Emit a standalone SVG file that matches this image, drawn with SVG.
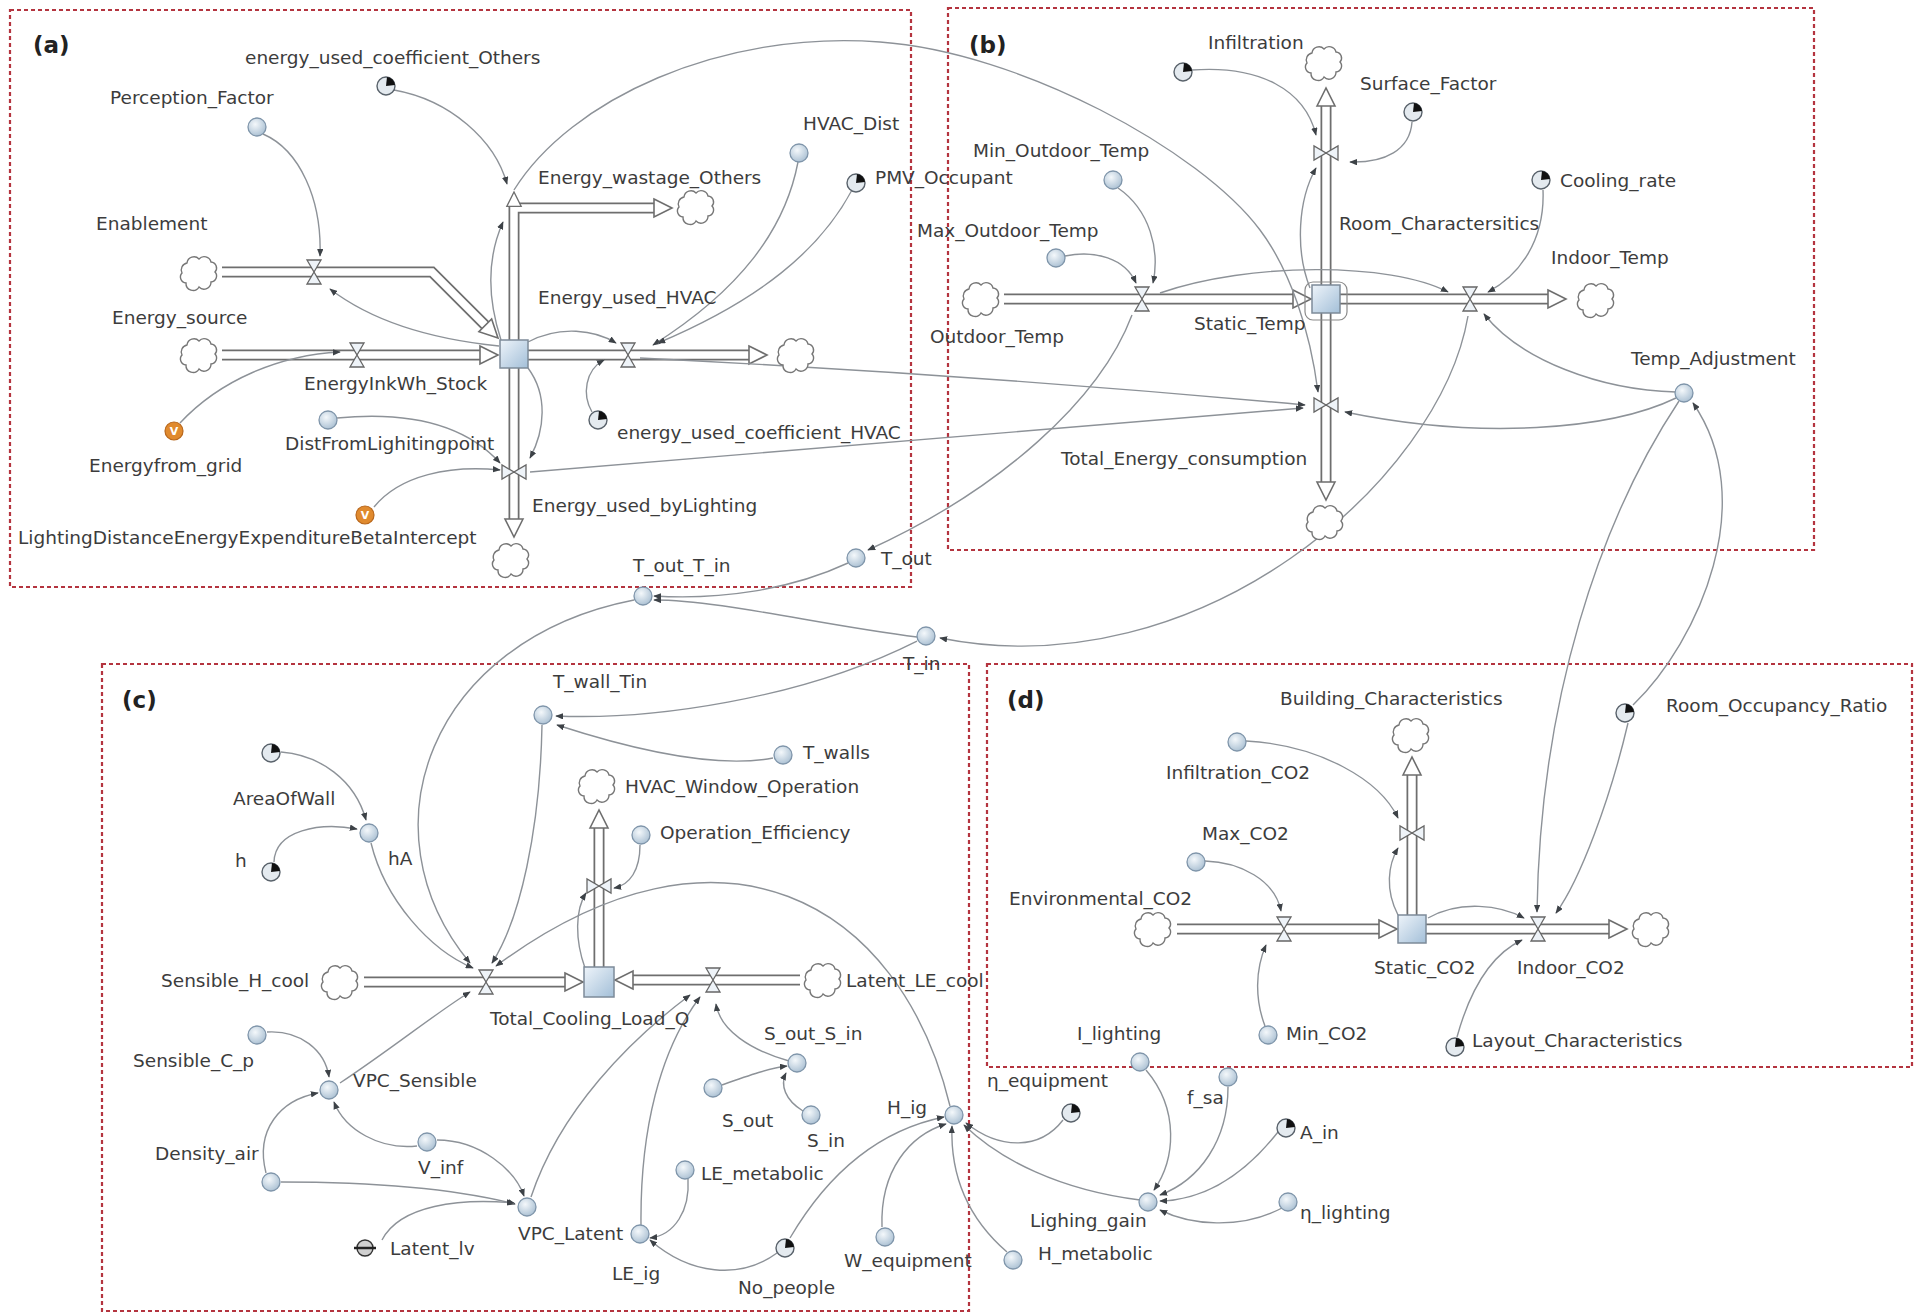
<svg xmlns="http://www.w3.org/2000/svg" xmlns:xlink="http://www.w3.org/1999/xlink" width="1919" height="1314" viewBox="0 0 1919 1314">
<style>
.lbl{font-family:"DejaVu Sans",sans-serif;font-size:18.5px;fill:#3c3c3c}
.pl{font-family:"DejaVu Sans",sans-serif;font-size:23px;font-weight:bold;fill:#222}
.panel{fill:none;stroke:#b4343f;stroke-width:2.2;stroke-dasharray:4 3}
.aux{fill:url(#ga);stroke:#7f95aa;stroke-width:1.3}
.par{fill:#e4eaef;stroke:#59626b;stroke-width:1.4}
.wedge{fill:#111}
.link{fill:none;stroke:#8d9298;stroke-width:1.4;marker-end:url(#ah)}
.pipeo{fill:none;stroke:#6e6e6e;stroke-width:11;stroke-linejoin:miter}
.pipei{fill:none;stroke:#fff;stroke-width:7.5;stroke-linejoin:miter}
.pah{fill:#fff;stroke:#6e6e6e;stroke-width:1.6;stroke-linejoin:miter}
.cloud{fill:#fff;stroke:#777;stroke-width:1.4}
.valve{fill:#eef3f8;stroke:#666;stroke-width:1.3}
.stock{fill:url(#gs);stroke:#7d8b99;stroke-width:1.5}
</style>
<defs>
<radialGradient id="ga" cx="40%" cy="35%" r="70%"><stop offset="0" stop-color="#f4f8fb"/><stop offset="1" stop-color="#a9bfd2"/></radialGradient>
<linearGradient id="gs" x1="0" y1="0" x2="1" y2="1"><stop offset="0" stop-color="#eef4fa"/><stop offset="1" stop-color="#a3bfd8"/></linearGradient>
<marker id="ah" viewBox="0 0 10 8" refX="9" refY="4" markerWidth="8" markerHeight="6.4" markerUnits="userSpaceOnUse" orient="auto"><path d="M0,0 L10,4 L0,8 z" fill="#3d4247"/></marker>
<g id="aux"><circle r="9" class="aux"/></g>
<g id="par"><circle r="9" class="par"/><path d="M0,0 L1,-9 A9,9 0 0 1 9,-1 Z" class="wedge"/></g>
<g id="ovar"><circle r="9" fill="#e08a2e" stroke="#b8661a" stroke-width="1.2"/><text x="0" y="4" text-anchor="middle" font-family="DejaVu Sans,sans-serif" font-size="11" font-weight="bold" fill="#fff">V</text></g>
<path id="cld" class="cloud" d="M-14,10 a6,6 0 0 1 -4,-10 a7,7 0 0 1 5,-10 a7,7 0 0 1 12,-4 a7,7 0 0 1 12,3 a6,6 0 0 1 4,10 a6,6 0 0 1 -4,10 a7,7 0 0 1 -12,5 a7,7 0 0 1 -13,-4 z"/>
<path id="vlv" class="valve" d="M-7,-12 H7 L0,0 Z M-7,12 H7 L0,0 Z"/>
<path id="pa" class="pah" d="M-18,-9 L0,0 L-18,9 Z"/>
</defs>
<rect width="1919" height="1314" fill="#fff"/>

<!-- panel frames -->
<g id="panels">
<rect class="panel" x="10" y="10" width="901" height="577"/>
<rect class="panel" x="948" y="8" width="866" height="542"/>
<rect class="panel" x="102" y="664" width="867" height="647"/>
<rect class="panel" x="987" y="664" width="925" height="403"/>
<text class="pl" x="33" y="53">(a)</text>
<text class="pl" x="969" y="53">(b)</text>
<text class="pl" x="122" y="708">(c)</text>
<text class="pl" x="1007" y="708">(d)</text>
</g>

<!-- material flows (pipes) -->
<g id="flows">
<path class="pipeo" d="M222,272 H432 L488,328"/><path class="pipei" d="M222,272 H432 L488,328"/>
<path class="pipeo" d="M222,355 H484"/><path class="pipei" d="M222,355 H484"/>
<path class="pipeo" d="M514,340 V208 H658"/><path class="pipei" d="M514,340 V208 H658"/>
<path class="pipeo" d="M528,355 H753"/><path class="pipei" d="M528,355 H753"/>
<path class="pipeo" d="M514,368 V523"/><path class="pipei" d="M514,368 V523"/>
<path class="pipeo" d="M1004,299 H1297"/><path class="pipei" d="M1004,299 H1297"/>
<path class="pipeo" d="M1326,285 V102"/><path class="pipei" d="M1326,285 V102"/>
<path class="pipeo" d="M1340,299 H1552"/><path class="pipei" d="M1340,299 H1552"/>
<path class="pipeo" d="M1326,313 V486"/><path class="pipei" d="M1326,313 V486"/>
<path class="pipeo" d="M364,982 H569"/><path class="pipei" d="M364,982 H569"/>
<path class="pipeo" d="M599,967 V824"/><path class="pipei" d="M599,967 V824"/>
<path class="pipeo" d="M800,980 H630"/><path class="pipei" d="M800,980 H630"/>
<path class="pipeo" d="M1177,929 H1383"/><path class="pipei" d="M1177,929 H1383"/>
<path class="pipeo" d="M1412,916 V771"/><path class="pipei" d="M1412,916 V771"/>
<path class="pipeo" d="M1426,929 H1613"/><path class="pipei" d="M1426,929 H1613"/>
<use href="#pa" transform="translate(498,338) rotate(45)"/>
<use href="#pa" transform="translate(498,355)"/>
<use href="#pa" transform="translate(514,192) rotate(-90) scale(0.8)"/>
<use href="#pa" transform="translate(672,208)"/>
<use href="#pa" transform="translate(767,355)"/>
<use href="#pa" transform="translate(514,537) rotate(90)"/>
<use href="#pa" transform="translate(1311,299)"/>
<use href="#pa" transform="translate(1326,88) rotate(-90)"/>
<use href="#pa" transform="translate(1566,299)"/>
<use href="#pa" transform="translate(1326,500) rotate(90)"/>
<use href="#pa" transform="translate(583,982)"/>
<use href="#pa" transform="translate(599,810) rotate(-90)"/>
<use href="#pa" transform="translate(615,980) rotate(180)"/>
<use href="#pa" transform="translate(1397,929)"/>
<use href="#pa" transform="translate(1412,757) rotate(-90)"/>
<use href="#pa" transform="translate(1627,929)"/>
</g>

<!-- causal links -->
<g id="connectors">
<path class="link" d="M394,90 C450,100 495,140 507,184"/>
<path class="link" d="M263,134 C300,150 322,200 320,256"/>
<path class="link" d="M499,346 Q390,335 330,289"/>
<path class="link" d="M501,340 C488,300 486,260 503,222"/>
<path class="link" d="M528,342 C560,325 595,330 616,343"/>
<path class="link" d="M592,412 C582,395 585,370 604,360"/>
<path class="link" d="M798,162 C785,230 740,290 653,345"/>
<path class="link" d="M852,190 C820,250 760,300 658,343"/>
<path class="link" d="M528,368 C548,395 545,430 530,458"/>
<path class="link" d="M337,418 C420,410 470,430 500,463"/>
<path class="link" d="M374,507 C400,475 450,465 500,470"/>
<path class="link" d="M180,423 C220,380 280,355 340,352"/>
<path class="link" d="M514,190 C570,100 720,30 880,42 C1020,52 1200,150 1260,230 C1290,270 1310,330 1318,392"/>
<path class="link" d="M640,358 Q980,375 1305,405"/>
<path class="link" d="M530,472 L1303,408"/>
<path class="link" d="M1192,70 C1260,65 1305,90 1316,135"/>
<path class="link" d="M1412,122 C1410,150 1385,163 1350,162"/>
<path class="link" d="M1310,288 C1295,250 1298,200 1316,168"/>
<path class="link" d="M1118,188 C1150,210 1160,250 1153,283"/>
<path class="link" d="M1065,256 C1095,250 1125,258 1136,283"/>
<path class="link" d="M1160,293 C1250,262 1390,262 1448,292"/>
<path class="link" d="M1132,315 C1100,400 1000,490 868,550"/>
<path class="link" d="M1543,190 C1545,240 1520,275 1488,292"/>
<path class="link" d="M1676,392 C1600,390 1520,360 1484,314"/>
<path class="link" d="M1676,398 C1610,430 1480,440 1345,412"/>
<path class="link" d="M1468,316 C1440,480 1200,690 940,638"/>
<path class="link" d="M848,563 C790,590 720,600 654,596"/>
<path class="link" d="M917,637 C820,625 720,600 654,600"/>
<path class="link" d="M634,600 C430,640 360,830 470,963"/>
<path class="link" d="M917,641 C800,700 650,720 556,716"/>
<path class="link" d="M773,758 C720,768 640,752 557,725"/>
<path class="link" d="M281,752 C320,755 355,780 366,820"/>
<path class="link" d="M274,862 C275,830 320,822 357,829"/>
<path class="link" d="M371,843 C385,900 430,950 473,968"/>
<path class="link" d="M542,725 C540,830 520,920 492,963"/>
<path class="link" d="M585,968 C575,940 575,910 586,893"/>
<path class="link" d="M640,845 C640,870 630,885 614,888"/>
<path class="link" d="M950,1106 C900,900 720,800 496,966"/>
<path class="link" d="M340,1083 C390,1050 440,1010 470,992"/>
<path class="link" d="M267,1032 C300,1030 325,1050 329,1077"/>
<path class="link" d="M266,1173 C255,1130 280,1100 318,1093"/>
<path class="link" d="M417,1146 C380,1150 345,1130 334,1102"/>
<path class="link" d="M437,1140 C480,1140 515,1170 524,1196"/>
<path class="link" d="M281,1182 C380,1182 460,1190 515,1204"/>
<path class="link" d="M382,1240 C400,1205 460,1198 514,1203"/>
<path class="link" d="M531,1197 C560,1110 630,1040 690,995"/>
<path class="link" d="M641,1225 C640,1130 660,1050 700,997"/>
<path class="link" d="M789,1061 C750,1050 720,1030 716,1004"/>
<path class="link" d="M722,1085 C750,1075 770,1068 787,1066"/>
<path class="link" d="M803,1111 C785,1100 780,1085 786,1073"/>
<path class="link" d="M688,1179 C690,1210 675,1235 650,1238"/>
<path class="link" d="M777,1253 C740,1280 690,1275 650,1240"/>
<path class="link" d="M790,1238 C830,1170 880,1130 944,1117"/>
<path class="link" d="M882,1227 C880,1170 910,1135 946,1124"/>
<path class="link" d="M1007,1252 C970,1220 950,1180 952,1126"/>
<path class="link" d="M1063,1120 C1040,1150 1000,1150 966,1123"/>
<path class="link" d="M1140,1200 C1060,1190 1000,1160 964,1125"/>
<path class="link" d="M1146,1070 C1180,1110 1175,1160 1154,1190"/>
<path class="link" d="M1228,1087 C1228,1140 1200,1180 1160,1195"/>
<path class="link" d="M1278,1132 C1240,1180 1200,1200 1160,1201"/>
<path class="link" d="M1282,1208 C1240,1230 1190,1225 1160,1210"/>
<path class="link" d="M1246,741 C1320,745 1380,780 1398,818"/>
<path class="link" d="M1398,915 C1385,890 1388,865 1398,848"/>
<path class="link" d="M1205,861 C1240,862 1275,880 1281,911"/>
<path class="link" d="M1265,1026 C1255,1000 1255,970 1266,945"/>
<path class="link" d="M1428,918 C1460,900 1500,905 1524,918"/>
<path class="link" d="M1457,1037 C1470,990 1490,955 1522,940"/>
<path class="link" d="M1679,401 C1600,520 1540,700 1537,912"/>
<path class="link" d="M1628,723 C1610,800 1580,880 1556,913"/>
<path class="link" d="M1633,705 C1700,640 1760,500 1693,403"/>
</g>

<!-- valves -->
<g id="valves">
<use href="#vlv" x="314" y="272"/>
<use href="#vlv" x="357" y="355"/>
<use href="#vlv" x="628" y="355"/>
<use href="#vlv" transform="translate(514,472) rotate(90)"/>
<use href="#vlv" x="1142" y="299"/>
<use href="#vlv" transform="translate(1326,153) rotate(90)"/>
<use href="#vlv" x="1470" y="299"/>
<use href="#vlv" transform="translate(1326,405) rotate(90)"/>
<use href="#vlv" x="486" y="982"/>
<use href="#vlv" transform="translate(599,886) rotate(90)"/>
<use href="#vlv" x="713" y="980"/>
<use href="#vlv" x="1284" y="929"/>
<use href="#vlv" transform="translate(1412,833) rotate(90)"/>
<use href="#vlv" x="1538" y="929"/>
</g>

<!-- sources and sinks -->
<g id="clouds">
<use href="#cld" x="200" y="273"/>
<use href="#cld" x="200" y="355"/>
<use href="#cld" x="697" y="207"/>
<use href="#cld" x="797" y="355"/>
<use href="#cld" x="512" y="560"/>
<use href="#cld" x="982" y="299"/>
<use href="#cld" x="1325" y="63"/>
<use href="#cld" x="1597" y="300"/>
<use href="#cld" x="1326" y="522"/>
<use href="#cld" x="341" y="982"/>
<use href="#cld" x="598" y="786"/>
<use href="#cld" x="824" y="980"/>
<use href="#cld" x="1154" y="929"/>
<use href="#cld" x="1412" y="735"/>
<use href="#cld" x="1652" y="929"/>
</g>

<!-- panel (a) -->
<g id="n-energy-stock"><rect class="stock" x="500" y="340" width="28" height="28"/><text class="lbl" x="304" y="389.5">EnergyInkWh_Stock</text></g>
<g id="n-enablement"><text class="lbl" x="96" y="229.5">Enablement</text></g>
<g id="n-energy-source"><text class="lbl" x="112" y="323.5">Energy_source</text></g>
<g id="n-energy-wastage"><text class="lbl" x="538" y="183.5">Energy_wastage_Others</text></g>
<g id="n-energy-used-hvac"><text class="lbl" x="538" y="303.5">Energy_used_HVAC</text></g>
<g id="n-energy-used-lighting"><text class="lbl" x="532" y="511.5">Energy_used_byLighting</text></g>
<g id="n-coef-others"><use href="#par" x="386" y="86"/><text class="lbl" x="245" y="63.5">energy_used_coefficient_Others</text></g>
<g id="n-perception"><use href="#aux" x="257" y="127"/><text class="lbl" x="110" y="103.5">Perception_Factor</text></g>
<g id="n-hvac-dist"><use href="#aux" x="799" y="153"/><text class="lbl" x="803" y="129.5">HVAC_Dist</text></g>
<g id="n-pmv"><use href="#par" x="856" y="183"/><text class="lbl" x="875" y="183.5">PMV_Occupant</text></g>
<g id="n-coef-hvac"><use href="#par" x="598" y="420"/><text class="lbl" x="617" y="438.5">energy_used_coefficient_HVAC</text></g>
<g id="n-dist"><use href="#aux" x="328" y="420"/><text class="lbl" x="285" y="449.5">DistFromLighitingpoint</text></g>
<g id="n-grid"><use href="#ovar" x="174" y="431"/><text class="lbl" x="89" y="471.5">Energyfrom_grid</text></g>
<g id="n-beta"><use href="#ovar" x="365" y="515"/><text class="lbl" x="18" y="543.5">LightingDistanceEnergyExpenditureBetaIntercept</text></g>

<!-- panel (b) -->
<g id="n-static-temp"><rect x="1305" y="282" width="42" height="38" rx="8" fill="none" stroke="#8a8a8a" stroke-width="1.2"/><rect class="stock" x="1312" y="285" width="28" height="28"/><text class="lbl" x="1194" y="329.5">Static_Temp</text></g>
<g id="n-outdoor-temp"><text class="lbl" x="930" y="342.5">Outdoor_Temp</text></g>
<g id="n-room-char"><text class="lbl" x="1339" y="229.5">Room_Charactersitics</text></g>
<g id="n-indoor-temp"><text class="lbl" x="1551" y="263.5">Indoor_Temp</text></g>
<g id="n-total-energy"><text class="lbl" x="1061" y="464.5">Total_Energy_consumption</text></g>
<g id="n-infiltration"><use href="#par" x="1183" y="72"/><text class="lbl" x="1208" y="48.5">Infiltration</text></g>
<g id="n-surface"><use href="#par" x="1413" y="112"/><text class="lbl" x="1360" y="89.5">Surface_Factor</text></g>
<g id="n-cooling-rate"><use href="#par" x="1541" y="180"/><text class="lbl" x="1560" y="186.5">Cooling_rate</text></g>
<g id="n-min-out"><use href="#aux" x="1113" y="180"/><text class="lbl" x="973" y="156.5">Min_Outdoor_Temp</text></g>
<g id="n-max-out"><use href="#aux" x="1056" y="258"/><text class="lbl" x="917" y="236.5">Max_Outdoor_Temp</text></g>
<g id="n-temp-adj"><use href="#aux" x="1684" y="393"/><text class="lbl" x="1631" y="364.5">Temp_Adjustment</text></g>

<!-- shared temperatures -->
<g id="n-t-out"><use href="#aux" x="856" y="558"/><text class="lbl" x="881" y="564.5">T_out</text></g>
<g id="n-t-out-t-in"><use href="#aux" x="643" y="596"/><text class="lbl" x="633" y="571.5">T_out_T_in</text></g>
<g id="n-t-in"><use href="#aux" x="926" y="636"/><text class="lbl" x="903" y="669.5">T_in</text></g>

<!-- panel (c) -->
<g id="n-cooling-load"><rect class="stock" x="584" y="967" width="30" height="30"/><text class="lbl" x="490" y="1024.5">Total_Cooling_Load_Q</text></g>
<g id="n-sensible-h"><text class="lbl" x="161" y="986.5">Sensible_H_cool</text></g>
<g id="n-latent-le"><text class="lbl" x="846" y="986.5">Latent_LE_cool</text></g>
<g id="n-hvac-window"><text class="lbl" x="625" y="792.5">HVAC_Window_Operation</text></g>
<g id="n-t-wall-tin"><use href="#aux" x="543" y="715"/><text class="lbl" x="553" y="688">T_wall_Tin</text></g>
<g id="n-t-walls"><use href="#aux" x="783" y="755"/><text class="lbl" x="803" y="758.5">T_walls</text></g>
<g id="n-area-wall"><use href="#par" x="271" y="753"/><text class="lbl" x="233" y="804.5">AreaOfWall</text></g>
<g id="n-ha"><use href="#aux" x="369" y="833"/><text class="lbl" x="388" y="864.5">hA</text></g>
<g id="n-h"><use href="#par" x="271" y="872"/><text class="lbl" x="235" y="866.5">h</text></g>
<g id="n-op-eff"><use href="#aux" x="641" y="835"/><text class="lbl" x="660" y="838.5">Operation_Efficiency</text></g>
<g id="n-sens-cp"><use href="#aux" x="257" y="1035"/><text class="lbl" x="133" y="1066.5">Sensible_C_p</text></g>
<g id="n-vpc-sens"><use href="#aux" x="329" y="1090"/><text class="lbl" x="353" y="1086.5">VPC_Sensible</text></g>
<g id="n-density"><use href="#aux" x="271" y="1182"/><text class="lbl" x="155" y="1159.5">Density_air</text></g>
<g id="n-v-inf"><use href="#aux" x="427" y="1142"/><text class="lbl" x="418" y="1173.5">V_inf</text></g>
<g id="n-vpc-lat"><use href="#aux" x="527" y="1207"/><text class="lbl" x="518" y="1239.5">VPC_Latent</text></g>
<g id="n-latent-lv"><circle cx="365" cy="1248" r="8" fill="#d0d0d0" stroke="#333" stroke-width="1.4"/><line x1="354" y1="1248" x2="376" y2="1248" stroke="#222" stroke-width="2.5"/><text class="lbl" x="390" y="1254.5">Latent_lv</text></g>
<g id="n-le-ig"><use href="#aux" x="640" y="1234"/><text class="lbl" x="612" y="1279.5">LE_ig</text></g>
<g id="n-le-met"><use href="#aux" x="685" y="1170"/><text class="lbl" x="701" y="1179.5">LE_metabolic</text></g>
<g id="n-s-out-s-in"><use href="#aux" x="797" y="1063"/><text class="lbl" x="764" y="1039.5">S_out_S_in</text></g>
<g id="n-s-out"><use href="#aux" x="713" y="1088"/><text class="lbl" x="722" y="1126.5">S_out</text></g>
<g id="n-s-in"><use href="#aux" x="811" y="1115"/><text class="lbl" x="807" y="1146.5">S_in</text></g>
<g id="n-h-ig"><use href="#aux" x="954" y="1115"/><text class="lbl" x="887" y="1113.5">H_ig</text></g>
<g id="n-no-people"><use href="#par" x="785" y="1248"/><text class="lbl" x="738" y="1293.5">No_people</text></g>
<g id="n-w-equip"><use href="#aux" x="885" y="1237"/><text class="lbl" x="844" y="1266.5">W_equipment</text></g>
<g id="n-h-met"><use href="#aux" x="1013" y="1260"/><text class="lbl" x="1038" y="1259.5">H_metabolic</text></g>
<g id="n-eta-equip"><use href="#par" x="1071" y="1113"/><text class="lbl" x="987" y="1086.5">η_equipment</text></g>
<g id="n-i-lighting"><use href="#aux" x="1140" y="1062"/><text class="lbl" x="1077" y="1039.5">I_lighting</text></g>
<g id="n-f-sa"><use href="#aux" x="1228" y="1077"/><text class="lbl" x="1187" y="1103.5">f_sa</text></g>
<g id="n-a-in"><use href="#par" x="1286" y="1128"/><text class="lbl" x="1300" y="1138.5">A_in</text></g>
<g id="n-eta-light"><use href="#aux" x="1288" y="1202"/><text class="lbl" x="1300" y="1218.5">η_lighting</text></g>
<g id="n-light-gain"><use href="#aux" x="1148" y="1202"/><text class="lbl" x="1030" y="1226.5">Lighing_gain</text></g>

<!-- panel (d) -->
<g id="n-static-co2"><rect class="stock" x="1398" y="915" width="28" height="28"/><text class="lbl" x="1374" y="973.5">Static_CO2</text></g>
<g id="n-env-co2"><text class="lbl" x="1009" y="904.5">Environmental_CO2</text></g>
<g id="n-building"><text class="lbl" x="1280" y="704.5">Building_Characteristics</text></g>
<g id="n-indoor-co2"><text class="lbl" x="1517" y="973.5">Indoor_CO2</text></g>
<g id="n-inf-co2"><use href="#aux" x="1237" y="742"/><text class="lbl" x="1166" y="778.5">Infiltration_CO2</text></g>
<g id="n-max-co2"><use href="#aux" x="1196" y="862"/><text class="lbl" x="1202" y="839.5">Max_CO2</text></g>
<g id="n-min-co2"><use href="#aux" x="1268" y="1035"/><text class="lbl" x="1286" y="1039.5">Min_CO2</text></g>
<g id="n-layout"><use href="#par" x="1455" y="1047"/><text class="lbl" x="1472" y="1046.5">Layout_Characteristics</text></g>
<g id="n-occupancy"><use href="#par" x="1625" y="713"/><text class="lbl" x="1666" y="711.5">Room_Occupancy_Ratio</text></g>
</svg>
